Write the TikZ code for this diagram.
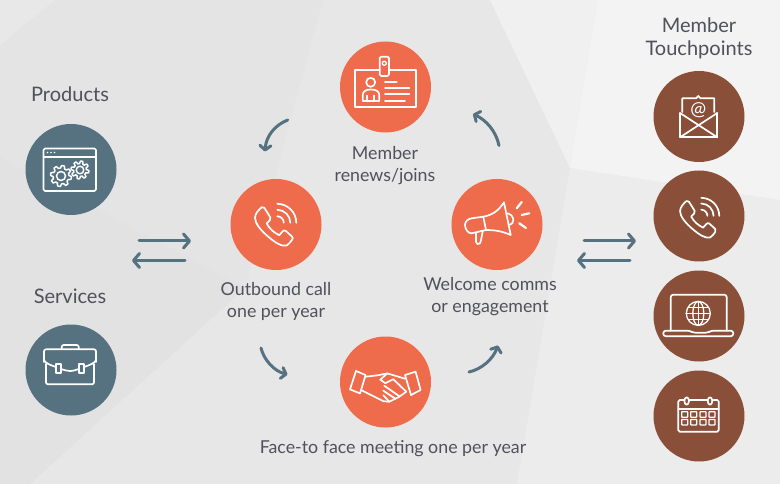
\documentclass[tikz,border=0pt]{standalone}
\usepackage{fontspec}
\setmainfont{Lato}
\usetikzlibrary{arrows.meta}
\definecolor{txt}{HTML}{50515A}
\definecolor{orng}{HTML}{EE6B4B}
\definecolor{teal}{HTML}{56717F}
\definecolor{brwn}{HTML}{8A4F38}
\tikzset{
  disc/.style={circle,minimum size=91pt,inner sep=0pt,draw=none},
  oc/.style={disc,fill=orng}, tc/.style={disc,fill=teal}, bc/.style={disc,fill=brwn},
  lbl/.style={text=txt,font=\fontsize{17.8}{22.5}\selectfont,align=center,inner sep=0pt},
  hd/.style={text=txt,font=\fontsize{20}{22.5}\selectfont,align=center,inner sep=0pt},
  flow/.style={draw=teal,line width=3pt,line cap=round,-{Straight Barb[length=6pt,width=14pt,round,line width=3pt]}},
  cflow/.style={draw=teal,line width=3pt,line cap=round,-{Straight Barb[length=4.5pt,width=11pt,round,line width=3pt]}},
  ico/.style={draw=white,line width=1.7pt,line join=round,line cap=round},
}
\newcommand{\qarc}[3]{(#1,#2-#3) .. controls (#1+0.55*#3,#2-#3) and (#1+#3,#2-0.55*#3) .. (#1+#3,#2)}
\newcommand{\gearshape}[4]{\draw[ico,line width=1.5pt] plot[domain=0:360,samples=97] ({#1+(#3-1.3+1.3*max(-1,min(1,2*sin(8*\x))))*cos(\x)},{#2+(#3-1.3+1.3*max(-1,min(1,2*sin(8*\x))))*sin(\x)}) -- cycle; \draw[ico,line width=1.5pt] (#1,#2) circle[radius=#4];}
\newcommand{\phoneicon}{%
  \draw[ico] (-21,-6.7) .. controls (-21,-11) and (-17,-15) .. (-14.3,-17.3) .. controls (-13.5,-17.8) and (-12.3,-17.6) .. (-11.7,-16.7)
    -- (-5.6,-7) .. controls (-5,-5.8) and (-5.4,-4.8) .. (-6.2,-4.2) -- (-9.3,-1) .. controls (-6,5) and (-2,8) .. (3.3,10.7)
    -- (6.5,7) .. controls (7.6,5.8) and (8.6,5.6) .. (9.8,6.4) -- (16,12) .. controls (17,13) and (17,14) .. (16.2,15)
    .. controls (14.5,17.5) and (13,19.5) .. (10.7,21) .. controls (6,22.5) and (-1,18) .. (-8,12) .. controls (-15,6) and (-21,-1) .. (-21,-6.7) -- cycle;
  \draw[ico] \qarc{1.3}{-1.7}{6.5};
  \draw[ico] \qarc{1.3}{-1.7}{13};
  \draw[ico] \qarc{1.3}{-1.7}{19};
}
\definecolor{bgbase}{HTML}{E7E7E7}
\definecolor{bgtl}{HTML}{E4E4E4}
\definecolor{bgcorner}{HTML}{E8E8E8}
\definecolor{bgdark}{HTML}{E2E2E2}
\definecolor{bglr}{HTML}{ECECEC}
\definecolor{bgtm}{HTML}{F0F0F0}
\definecolor{bgtr}{HTML}{F3F3F3}
\begin{document}
\begin{tikzpicture}[x=1pt,y=-1pt]
\useasboundingbox (0,0) rectangle (780,484);
% background
\fill[bgbase] (0,0) rectangle (780,484);
\fill[bgtl] (0,0) -- (323,0) -- (245,288) -- (0,157) -- cycle;
\fill[bgcorner] (0,0) -- (55,0) -- (0,45) -- cycle;
\fill[bgdark] (0,157) -- (245,288) -- (30,484) -- (0,484) -- cycle;
\fill[bglr] (570,168) -- (780,200) -- (780,484) -- (517,484) -- cycle;
\fill[bgtm] (490,0) -- (598,0) -- (570,168) -- cycle;
\fill[bgtr] (598,0) -- (780,0) -- (780,200) -- (570,168) -- cycle;
% discs
\node[tc] (prod) at (71,169.5) {};
\node[tc] (serv) at (71,370) {};
\node[oc] (memb) at (385.5,87) {};
\node[oc] (outb) at (276,224.5) {};
\node[oc] (welc) at (497,224.5) {};
\node[oc] (face) at (385.5,382) {};
\node[bc] (r1) at (699,116.5) {};
\node[bc] (r2) at (699,216) {};
\node[bc] (r3) at (699,316) {};
\node[bc] (r4) at (699,416) {};
% labels
\node[hd] (lprod) at (70,94) {Products};
\node[hd] (lserv) at (70,296.5) {Services};
\node[hd] (ltouch) at (699,38.5) {Member\\Touchpoints};
\node[lbl] (lmemb) at (385,165.5) {Member\\renews/joins};
\node[lbl] (loutb) at (276,301.5) {Outbound call\\one per year};
\node[lbl] (lwelc) at (490,296.5) {Welcome comms\\or engagement};
\node[lbl] (lface) at (393,448.5) {Face-to face meeting one per year};
% connectors
\coordinate (a1s) at (287.7,120); \coordinate (a1e) at (265,151.5);
\coordinate (a2s) at (261,348); \coordinate (a2e) at (287.5,374.5);
\coordinate (a3s) at (469,372); \coordinate (a3e) at (498,345.5);
\coordinate (a4s) at (499,145.5); \coordinate (a4e) at (473,114);
\draw[cflow] (a1s) .. controls (275,125) and (266,136) .. (a1e);
\draw[cflow] (a2s) .. controls (264,360) and (274,371) .. (a2e);
\draw[cflow] (a3s) .. controls (482,369) and (493,359) .. (a3e);
\draw[cflow] (a4s) .. controls (496,131) and (486,120) .. (a4e);
\coordinate (l1s) at (139,241); \coordinate (l1e) at (191,241);
\coordinate (l2s) at (185,260.5); \coordinate (l2e) at (132,260.5);
\coordinate (m1s) at (584,241); \coordinate (m1e) at (636,241);
\coordinate (m2s) at (630,260.5); \coordinate (m2e) at (577,260.5);
\draw[flow] (l1s) -- (l1e);
\draw[flow] (l2s) -- (l2e);
\draw[flow] (m1s) -- (m1e);
\draw[flow] (m2s) -- (m2e);
% window + gears
\draw[ico,rounded corners=1.5pt] (43.5,148.5) rectangle (96,191);
\draw[ico] (43.5,156.7) -- (96,156.7);
\foreach \d in {47.5,51,54.5} \fill[white] (\d,152.6) circle[radius=0.9];
\gearshape{61}{176}{10.5}{4.5}
\gearshape{80}{170}{9}{3.8}
% briefcase
\draw[ico,rounded corners=2pt] (44,362) -- (44,349.3) -- (96,349.3) -- (96,362);
\draw[ico] (44,360) .. controls (45,363) and (50,365) .. (56,367);
\draw[ico] (96,360) .. controls (95,363) and (90,365) .. (84,367);
\draw[ico,rounded corners=2pt] (46,364) -- (46,384.3) -- (94,384.3) -- (94,364);
\draw[ico,rounded corners=2pt] (61.7,349) -- (61.7,345) -- (78.7,345) -- (78.7,349);
\draw[ico] (56,364) rectangle (60.7,373);
\draw[ico] (79,364) rectangle (84,373);
\draw[ico] (60.7,369) .. controls (65,370) and (66,371) .. (70,371) .. controls (74,371) and (75,370) .. (79,369);
% ID card
\draw[ico] (354.7,70) rectangle (415.7,106.7);
\draw[ico,fill=orng,rounded corners=1.5pt] (379.7,56.7) rectangle (389,76);
\draw[ico,line width=1.3pt] (384.3,63.3) circle[radius=2];
\draw[ico] (370.7,82.3) circle[radius=4.5];
\draw[ico] (362.7,101) -- (362.7,95) .. controls (363,91) and (366,89.5) .. (370.7,89.5) .. controls (376,89.5) and (379,91) .. (379.3,95) -- (379.3,101) -- cycle;
\draw[ico] (367,101) -- (367,95.5);
\draw[ico] (374.3,101) -- (374.3,95.5);
\draw[ico] (385,81.7) -- (396.7,81.7);
\draw[ico] (385,88.3) -- (409.3,88.3);
\draw[ico] (385,94.3) -- (409.3,94.3);
\draw[ico] (385,100.7) -- (405,100.7);
% phones
\begin{scope}[shift={(276,224.5)}] \phoneicon \end{scope}
\begin{scope}[shift={(700,217.5)},scale=.95] \phoneicon \end{scope}
% megaphone
\begin{scope}[shift={(497,225)}]
\draw[ico] (-13.7,-8.3) .. controls (-4,-10) and (2,-15) .. (7,-22.7) -- (13.7,10) .. controls (5,6) and (-3,5) .. (-11,5) -- (-25.3,8.3)
  .. controls (-29,8.5) and (-32,4) .. (-32,0) .. controls (-32,-3.5) and (-29,-6.2) .. (-25.3,-6.7) -- cycle;
\draw[ico] (-13.7,-8.3) -- (-11,5);
\draw[ico] (-21,7.7) -- (-21,16.7) .. controls (-21,19) and (-18.5,20) .. (-17.2,18.5) .. controls (-16,17) and (-15.5,12) .. (-14.3,6.5);
\draw[ico] (10.3,-11.7) .. controls (14,-11) and (16.3,-8) .. (16.3,-5) .. controls (16.3,-2.5) and (15,-0.5) .. (12.3,0);
\draw[ico,line width=2.2pt] (19.7,-16.7) -- (24.7,-23);
\draw[ico,line width=2.2pt] (24.7,-10) -- (32.3,-11.7);
\draw[ico,line width=2.2pt] (22.3,-1.7) -- (29,3);
\end{scope}
% handshake
\begin{scope}[shift={(385.3,382.7)}]
\draw[ico] (-29.3,-11.7) -- (-19.7,-7.7) -- (-25.3,10.7) -- (-35.3,6.7) -- cycle;
\draw[ico] (19.7,-7.7) -- (30.3,-11) -- (35.3,7.3) -- (25.7,12.3) -- cycle;
\draw[ico] (-19.7,-6) -- (-7,-7.5) -- (2,-9.3) -- (19.7,-4);
\draw[ico] (2,-9.3) -- (-5,-3) -- (0,0.5) -- (8,-3.5) -- (21,9) -- (14,14) -- (10,16) -- (4,19) -- (-2,18.5) -- (-24,7.5);
\draw[ico] (-1,3) -- (14,13.5);
\draw[ico] (-2,8) -- (10,16);
\draw[ico] (-2,12.5) -- (4,19);
\end{scope}
% envelope
\begin{scope}[shift={(699,116)}]
\draw[ico] (-16.7,-4) -- (-16.7,-17.7) -- (-3,-17.7) -- (-0.7,-20) -- (1.5,-17.7) -- (15.3,-17.7) -- (15.3,-4);
\draw[ico] (-19,-3) -- (-19,21.3) -- (18.3,21.3) -- (18.3,-3);
\draw[ico] (-19,-3) -- (18.3,21.3);
\draw[ico] (18.3,-3) -- (-19,21.3);
\node[text=white,font=\fontsize{19}{19}\selectfont,inner sep=0pt] (at) at (-0.7,-5.5) {@};
\end{scope}
% laptop
\begin{scope}[shift={(699,315.7)}]
\draw[ico,rounded corners=2.5pt] (-28.3,15) -- (-28.3,-21) -- (27.7,-21) -- (27.7,15);
\draw[ico,rounded corners=2.5pt] (-35.7,15) -- (-9,15) -- (-6,17) -- (9,17) -- (12,15) -- (34.3,15) -- (34.3,20.5) -- (-35.7,20.5) -- cycle;
\draw[ico,line width=1.3pt] (-0.7,-2.3) circle[radius=12];
\draw[ico,line width=1.3pt] (-0.7,-2.3) ellipse[x radius=5.5,y radius=12];
\draw[ico,line width=1.3pt] (-0.7,-14.3) -- (-0.7,9.7);
\draw[ico,line width=1.3pt] (-12.7,-2.3) -- (11.3,-2.3);
\draw[ico,line width=1.3pt] (-10.7,-8.5) -- (9.3,-8.5);
\draw[ico,line width=1.3pt] (-10.7,3.9) -- (9.3,3.9);
\end{scope}
% calendar
\begin{scope}[shift={(699,415.7)}]
\draw[ico,rounded corners=1.5pt] (-20.7,-15.7) rectangle (19.7,16);
\draw[ico] (-20.7,-6.7) -- (19.7,-6.7);
\draw[ico,fill=brwn] (-12.3,-14.7) ellipse[x radius=2.3,y radius=3.7];
\draw[ico,fill=brwn] (11,-14.7) ellipse[x radius=2.3,y radius=3.7];
\foreach \cx in {-17.3,-8.3,1,10} \foreach \cy in {-4,3.7}
  \draw[ico,line width=1.3pt,rounded corners=.5pt] (\cx,\cy) rectangle +(6,5.5);
\end{scope}
\end{tikzpicture}
\end{document}
